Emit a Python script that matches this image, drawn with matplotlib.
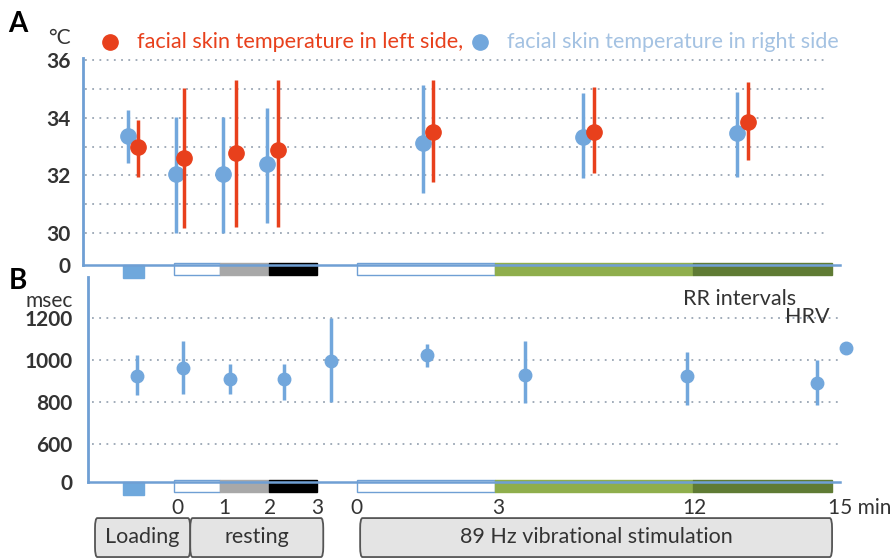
import matplotlib
matplotlib.use("Agg")
import matplotlib.pyplot as plt
import matplotlib.transforms as mtransforms
from matplotlib.patches import Rectangle, FancyBboxPatch

plt.rcParams['font.family'] = ['Lato', 'DejaVu Sans']

# --- panel A: facial skin temperature (deg C) ---
right_x = [-1.05, -0.02, 0.98, 1.93, 5.27, 8.69, 11.99]
right_t = [33.36, 32.04, 32.04, 32.39, 33.12, 33.33, 33.47]
right_lo = [32.42, 29.99, 29.99, 30.34, 31.38, 31.90, 31.94]
right_hi = [34.26, 34.02, 34.02, 34.33, 35.13, 34.85, 34.89]

left_x = [-0.84, 0.15, 1.26, 2.16, 5.48, 8.93, 12.23]
left_t = [32.98, 32.60, 32.77, 32.88, 33.50, 33.50, 33.85]
left_lo = [31.94, 30.17, 30.20, 30.20, 31.76, 32.08, 32.53]
left_hi = [33.92, 35.03, 35.31, 35.31, 35.31, 35.06, 35.24]

# --- panel B: RR intervals (msec) ---
rr_x = [-0.86, 0.13, 1.13, 2.29, 3.30, 5.35, 7.45, 10.92, 13.70]
rr = [923, 961, 908, 908, 995, 1024, 928, 923, 889]
rr_lo = [831, 836, 836, 807, 798, 966, 793, 783, 783]
rr_hi = [1024, 1092, 981, 981, 1202, 1077, 1092, 1039, 1000]

# timeline
tick_pos = [0, 1, 2, 3, 3.85, 6.87, 11.09]
tick_lab = ['0', '1', '2', '3', '0', '3', '12']
phase_start = [-1.16, -0.06, 0.92, 1.97, 3.85, 6.81, 11.05]
phase_end = [-0.71, 0.92, 1.97, 3.00, 6.81, 11.05, 14.02]
phase_col = ['#6fa8dc', 'white', '#a8a8a8', 'black', 'white', '#8fae4c', '#5f7b34']
box_labels = ['Loading', 'resting', '89 Hz vibrational stimulation']
box_start = [-1.76, 0.28, 3.92]
box_end = [0.28, 3.13, 14.03]

BLUE = '#72a7dc'
RED = '#e8401c'
AXBLUE = '#6f9fd4'
GRID = '#9aa6b4'
TXT = '#333333'

fig = plt.figure(figsize=(8.93, 5.6), dpi=100)


def px(x0, y0, x1, y1):
    return [x0 / 893, 1 - y1 / 560, (x1 - x0) / 893, (y1 - y0) / 560]


def style_axis(ax, pad):
    for s in ['top', 'right']:
        ax.spines[s].set_visible(False)
    ax.spines['left'].set_color(AXBLUE)
    ax.spines['left'].set_linewidth(2.0)
    ax.spines['bottom'].set_color(AXBLUE)
    ax.spines['bottom'].set_linewidth(1.8)
    ax.set_xticks([])
    ax.tick_params(axis='y', length=0, pad=pad, labelsize=15, labelcolor=TXT)
    for lab in ax.get_yticklabels():
        lab.set_fontweight('bold')
    ax.patch.set_alpha(0)


def phase_bars(ax):
    trans = mtransforms.blended_transform_factory(ax.transData, ax.transAxes)
    for i, (a, b, c) in enumerate(zip(phase_start, phase_end, phase_col)):
        lo, hi = (-0.065, 0.0) if i == 0 else (-0.05, 0.01)
        ec = AXBLUE if c == 'white' else c
        ax.add_patch(Rectangle((a, lo), b - a, hi - lo, transform=trans,
                               facecolor=c, edgecolor=ec, lw=1.0,
                               clip_on=False, zorder=1))


# ---------------- panel A ----------------
axA = fig.add_axes(px(83, 58, 840, 265))
zeroA = 28.89
axA.set_xlim(-2.01, 14.2)
axA.set_ylim(zeroA, 36.07)
for v in range(30, 37):
    axA.hlines(v, -1.97, 13.94, colors=GRID, linestyles=(0, (1, 3)), lw=1.3, zorder=0)
axA.errorbar(right_x, right_t,
             yerr=[[m - l for m, l in zip(right_t, right_lo)],
                   [h - m for m, h in zip(right_t, right_hi)]],
             fmt='o', color=BLUE, ms=11, elinewidth=2.5, capsize=0, zorder=3)
axA.errorbar(left_x, left_t,
             yerr=[[m - l for m, l in zip(left_t, left_lo)],
                   [h - m for m, h in zip(left_t, left_hi)]],
             fmt='o', color=RED, ms=11, elinewidth=2.5, capsize=0, zorder=4)
axA.set_yticks([zeroA, 30, 32, 34, 36], ['0', '30', '32', '34', '36'])
style_axis(axA, 9)
phase_bars(axA)

# ---------------- panel B ----------------
axB = fig.add_axes(px(88, 277, 840, 482))
zeroB = 416
axB.set_xlim(-1.91, 14.2)
axB.set_ylim(zeroB, 1396)
for v in [600, 800, 1000, 1200]:
    axB.hlines(v, -1.82, 14.15, colors=GRID, linestyles=(0, (1, 3)), lw=1.3, zorder=0)
axB.errorbar(rr_x, rr,
             yerr=[[m - l for m, l in zip(rr, rr_lo)],
                   [h - m for m, h in zip(rr, rr_hi)]],
             fmt='o', color=BLUE, ms=9, elinewidth=2.5, capsize=0, zorder=3)
axB.plot([14.33], [1056], 'o', color=BLUE, ms=9, clip_on=False, zorder=3)
axB.set_yticks([zeroB, 600, 800, 1000, 1200], ['0', '600', '800', '1000', '1200'])
style_axis(axB, 11)
phase_bars(axB)

transB = mtransforms.blended_transform_factory(axB.transData, axB.transAxes)
for p, l in zip(tick_pos, tick_lab):
    axB.text(p, -0.125, l, transform=transB, ha='center', va='center',
             fontsize=15, color=TXT)
axB.text(13.95, -0.125, '15 min', transform=transB, ha='left', va='center',
         fontsize=15, color=TXT, clip_on=False)
for a, b, l in zip(box_start, box_end, box_labels):
    axB.add_patch(FancyBboxPatch((a, -0.366), b - a, 0.19, transform=transB,
                                 boxstyle='round,pad=0,rounding_size=0.05',
                                 facecolor='#e4e4e4', edgecolor='#555555',
                                 lw=1.3, clip_on=False))
    axB.text((a + b) / 2, -0.27, l, transform=transB, ha='center', va='center',
             fontsize=15.5, color=TXT)

# labels and legend
fig.text(8 / 893, 1 - 24 / 560, 'A', fontsize=20, fontweight='bold', va='center')
fig.text(9 / 893, 1 - 281 / 560, 'B', fontsize=20, fontweight='bold', va='center')
fig.text(71 / 893, 1 - 38 / 560, '°C', fontsize=15, color=TXT, va='center', ha='right')
fig.text(73 / 893, 1 - 301 / 560, 'msec', fontsize=15, color=TXT, va='center', ha='right')
fig.lines.append(plt.Line2D([110 / 893], [1 - 42 / 560], marker='o', color=RED,
                            ms=11, transform=fig.transFigure))
fig.text(137 / 893, 1 - 42 / 560, 'facial skin temperature in left side,',
         fontsize=15.6, color=RED, va='center')
fig.lines.append(plt.Line2D([480 / 893], [1 - 42 / 560], marker='o', color=BLUE,
                            ms=11, transform=fig.transFigure))
fig.text(507 / 893, 1 - 42 / 560, 'facial skin temperature in right side',
         fontsize=15.5, color='#a4c2e2', va='center')
fig.text(683 / 893, 1 - 299 / 560, 'RR intervals', fontsize=15.5, color=TXT, va='center')
fig.text(785 / 893, 1 - 317 / 560, 'HRV', fontsize=15.5, color=TXT, va='center')

fig.savefig('out.png', dpi=100)
